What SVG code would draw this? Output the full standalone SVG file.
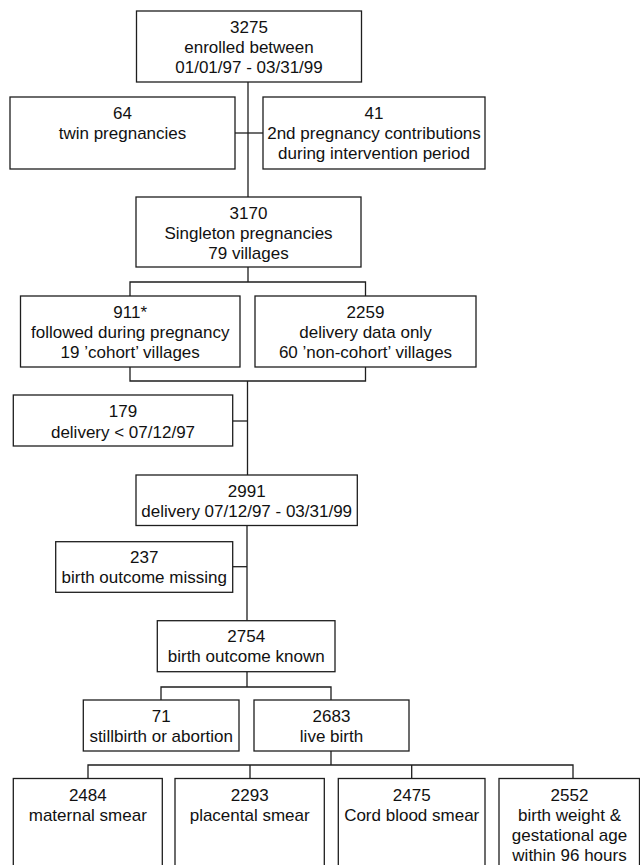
<svg xmlns="http://www.w3.org/2000/svg" width="640" height="865" viewBox="0 0 640 865">
<style>
  .box { fill: #ffffff; stroke: #1e1e1e; stroke-width: 1.3; }
  .t { font-family: "Liberation Sans", Arial, Helvetica, sans-serif; font-size: 17px; fill: #111111; text-anchor: middle; }
  .c { fill: none; stroke: #1e1e1e; stroke-width: 1.3; }
</style>
<rect width="640" height="865" fill="#ffffff"/>
<g id="connectors">
  <path class="c" d="M248,82 V197"/>
  <path class="c" d="M235,133 H263"/>
  <path class="c" d="M248,267 V282 M130,296 V282 H365.5 V296"/>
  <path class="c" d="M130,367 V381 H365.5 V367 M247.5,381 V475"/>
  <path class="c" d="M232.7,421 H247.5"/>
  <path class="c" d="M247,525.5 V620.7"/>
  <path class="c" d="M232.7,566.7 H247"/>
  <path class="c" d="M247,672 V687 M161,700 V687 H331 V700"/>
  <path class="c" d="M331,751 V765 M88,778.5 V765 H573 V778.5 M250,765 V778.5 M411.7,765 V778.5"/>
</g>
<g id="n3275">
  <rect class="box" x="136.5" y="11" width="225" height="71"/>
  <text class="t" x="249" y="33">3275</text>
  <text class="t" x="249" y="53">enrolled between</text>
  <text class="t" x="249" y="73">01/01/97 - 03/31/99</text>
</g>
<g id="n64">
  <rect class="box" x="10" y="97" width="225" height="72"/>
  <text class="t" x="122.5" y="119">64</text>
  <text class="t" x="122.5" y="139">twin pregnancies</text>
</g>
<g id="n41">
  <rect class="box" x="263" y="97" width="222" height="72"/>
  <text class="t" x="374" y="119">41</text>
  <text class="t" x="374" y="139">2nd pregnancy contributions</text>
  <text class="t" x="374" y="159">during intervention period</text>
</g>
<g id="n3170">
  <rect class="box" x="136" y="197" width="225" height="70"/>
  <text class="t" x="248.5" y="219">3170</text>
  <text class="t" x="248.5" y="239">Singleton pregnancies</text>
  <text class="t" x="248.5" y="259">79 villages</text>
</g>
<g id="n911">
  <rect class="box" x="20.5" y="296" width="219.5" height="71"/>
  <text class="t" x="130.2" y="318">911*</text>
  <text class="t" x="130.2" y="338">followed during pregnancy</text>
  <text class="t" x="130.2" y="358">19 ’cohort’ villages</text>
</g>
<g id="n2259">
  <rect class="box" x="255" y="296" width="221" height="71"/>
  <text class="t" x="365.5" y="318">2259</text>
  <text class="t" x="365.5" y="338">delivery data only</text>
  <text class="t" x="365.5" y="358">60 ’non-cohort’ villages</text>
</g>
<g id="n179">
  <rect class="box" x="13.3" y="395" width="219.4" height="51"/>
  <text class="t" x="123" y="417">179</text>
  <text class="t" x="123" y="438">delivery &lt; 07/12/97</text>
</g>
<g id="n2991">
  <rect class="box" x="136" y="475" width="221.3" height="50.5"/>
  <text class="t" x="246.7" y="497">2991</text>
  <text class="t" x="246.7" y="517">delivery 07/12/97 - 03/31/99</text>
</g>
<g id="n237">
  <rect class="box" x="55.7" y="541.7" width="177" height="50.6"/>
  <text class="t" x="144.2" y="563">237</text>
  <text class="t" x="144.2" y="583">birth outcome missing</text>
</g>
<g id="n2754">
  <rect class="box" x="157.3" y="620.7" width="177.7" height="51"/>
  <text class="t" x="246.2" y="642">2754</text>
  <text class="t" x="246.2" y="662">birth outcome known</text>
</g>
<g id="n71">
  <rect class="box" x="83.3" y="700" width="155.7" height="51"/>
  <text class="t" x="161.2" y="722">71</text>
  <text class="t" x="161.2" y="742">stillbirth or abortion</text>
</g>
<g id="n2683">
  <rect class="box" x="254" y="700" width="155" height="51"/>
  <text class="t" x="331.5" y="722">2683</text>
  <text class="t" x="331.5" y="742">live birth</text>
</g>
<g id="n2484">
  <rect class="box" x="13.3" y="778.5" width="149" height="100"/>
  <text class="t" x="87.8" y="801">2484</text>
  <text class="t" x="87.8" y="821">maternal smear</text>
</g>
<g id="n2293">
  <rect class="box" x="175" y="778.5" width="149.3" height="100"/>
  <text class="t" x="249.7" y="801">2293</text>
  <text class="t" x="249.7" y="821">placental smear</text>
</g>
<g id="n2475">
  <rect class="box" x="338.3" y="778.5" width="146.7" height="100"/>
  <text class="t" x="411.7" y="801">2475</text>
  <text class="t" x="411.7" y="821">Cord blood smear</text>
</g>
<g id="n2552">
  <rect class="box" x="499" y="778.5" width="140.5" height="100"/>
  <text class="t" x="569.5" y="801">2552</text>
  <text class="t" x="569.5" y="821">birth weight &amp;</text>
  <text class="t" x="569.5" y="841">gestational age</text>
  <text class="t" x="569.5" y="861">within 96 hours</text>
</g>
</svg>
